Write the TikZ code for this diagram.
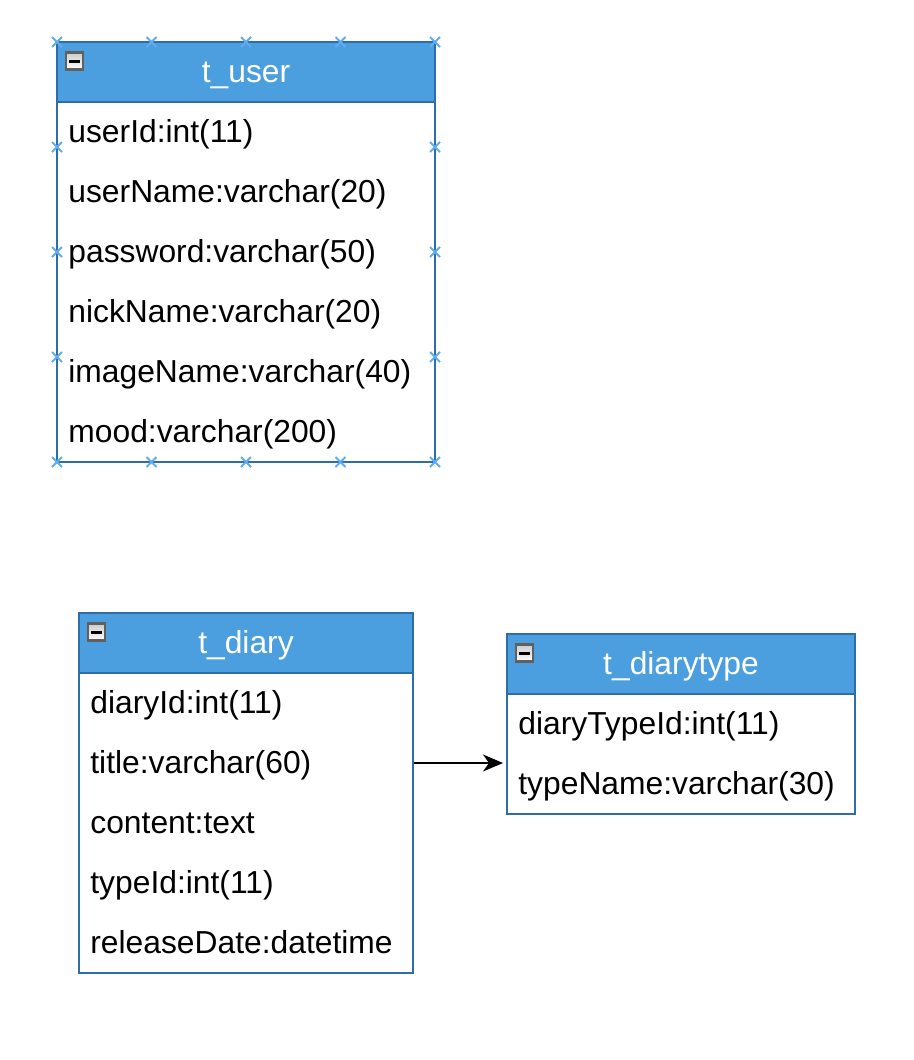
\documentclass[tikz,border=0pt]{standalone}
\usepackage{fontspec}
\setmainfont{Liberation Sans}
\usetikzlibrary{arrows.meta,fit}
\definecolor{hdr}{RGB}{76,159,222}
\definecolor{bord}{RGB}{45,110,170}
\definecolor{selmark}{RGB}{95,172,240}
\tikzset{
  tblbody/.style={draw=bord, line width=1pt, fill=white, inner sep=0pt},
  tblhead/.style={draw=bord, line width=1pt, fill=hdr, inner sep=0pt},
  tbltitle/.style={anchor=base, inner sep=0pt, text=white,
    font=\fontsize{15.9}{19}\selectfont},
  rowtext/.style={anchor=base west, inner xsep=5.5pt, inner ysep=0pt, text=black,
    font=\fontsize{15.9}{19}\selectfont},
  fk/.style={draw=black, line width=1pt, -{Stealth[length=10pt,width=8.5pt,inset=3pt]}, shorten >=1.5pt},
  xcross/.pic={\draw[selmark, line width=1pt] (-5,-5)--(5,5) (-5,5)--(5,-5);},
  minusicon/.pic={
    \draw[draw=gray!75!black, line width=1.2pt, top color=gray!40, bottom color=white]
      (-8.5,-8.5) rectangle (8.5,8.5);
    \draw[black, line width=1.5pt] (-5.5,0)--(5.5,0);}
}
\begin{document}
\begin{tikzpicture}[x=0.5pt,y=-0.5pt]
\useasboundingbox (0,0) rectangle (914,1060);
% ---- t_user ----
\node[tblbody, fit={(57,42) (435,462)}] (user) {};
\node[tblhead, fit={(57,42) (435,102)}] (userh) {};
\node[tbltitle] (usert) at (246,82) {t\_user};
\pic at (74.5,61) {minusicon};
\node[rowtext] (u1) at (57,142) {userId:int(11)};
\node[rowtext] (u2) at (57,202) {userName:varchar(20)};
\node[rowtext] (u3) at (57,262) {password:varchar(50)};
\node[rowtext] (u4) at (57,322) {nickName:varchar(20)};
\node[rowtext] (u5) at (57,382) {imageName:varchar(40)};
\node[rowtext] (u6) at (57,442) {mood:varchar(200)};
% selection markers
\foreach \mx in {57,151.5,246,340.5,435} {
  \pic at (\mx,42) {xcross};
  \pic at (\mx,462) {xcross};
}
\foreach \my in {147,252,357} {
  \pic at (57,\my) {xcross};
  \pic at (435,\my) {xcross};
}
% ---- t_diary ----
\node[tblbody, fit={(79,613) (413,973)}] (diary) {};
\node[tblhead, fit={(79,613) (413,673)}] (diaryh) {};
\node[tbltitle] (diaryt) at (246,653) {t\_diary};
\pic at (96.5,632) {minusicon};
\node[rowtext] (d1) at (79,713) {diaryId:int(11)};
\node[rowtext] (d2) at (79,773) {title:varchar(60)};
\node[rowtext] (d3) at (79,833) {content:text};
\node[rowtext] (d4) at (79,893) {typeId:int(11)};
\node[rowtext] (d5) at (79,953) {releaseDate:datetime};
% ---- t_diarytype ----
\node[tblbody, fit={(507,634) (855,814)}] (dtype) {};
\node[tblhead, fit={(507,634) (855,694)}] (dtypeh) {};
\node[tbltitle] (dtypet) at (681,674) {t\_diarytype};
\pic at (524.5,653) {minusicon};
\node[rowtext] (t1) at (507,734) {diaryTypeId:int(11)};
\node[rowtext] (t2) at (507,794) {typeName:varchar(30)};
% ---- connector ----
\coordinate (fkrow) at (79,763);
\draw[fk] (diary.east |- fkrow) -- (dtype.west |- fkrow);
\end{tikzpicture}
\end{document}
